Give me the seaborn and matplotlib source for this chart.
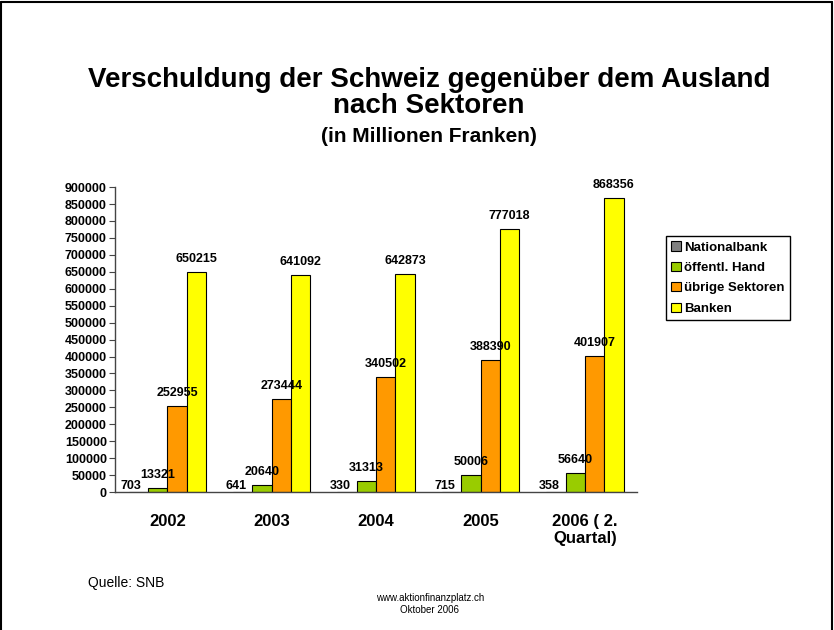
"""
Verschuldung der Schweiz gegenueber dem Ausland nach Sektoren.
"""

import matplotlib

matplotlib.use("Agg")

import matplotlib.pyplot as plt
import pandas as pd
import seaborn as sns
from matplotlib.lines import Line2D


YEARS = ["2002", "2003", "2004", "2005", "2006 ( 2.\nQuartal)"]
SECTORS = ["Nationalbank", "öffentl. Hand", "übrige Sektoren", "Banken"]

NATIONALBANK = [703, 641, 330, 715, 358]
OEFFENTL_HAND = [13321, 20640, 31313, 50006, 56640]
UEBRIGE_SEKTOREN = [252955, 273444, 340502, 388390, 401907]
BANKEN = [650215, 641092, 642873, 777018, 868356]

COLORS = ["#808080", "#99CC00", "#FF9900", "#FFFF00"]


def create_dataframe() -> pd.DataFrame:
    """
    Builds a long table for seaborn.
    """
    rows = []
    series = [NATIONALBANK, OEFFENTL_HAND, UEBRIGE_SEKTOREN, BANKEN]
    for sector, values in zip(SECTORS, series):
        for year, value in zip(YEARS, values):
            rows.append({"Jahr": year, "Sektor": sector, "Wert": value})
    return pd.DataFrame(rows)


def main() -> None:
    sns.set_style("white")
    plt.rcParams["font.family"] = ["Liberation Sans", "DejaVu Sans"]
    plt.rcParams["text.color"] = "black"
    plt.rcParams["xtick.color"] = "black"
    plt.rcParams["ytick.color"] = "black"

    df = create_dataframe()

    fig = plt.figure(figsize=(8.34, 6.3), dpi=100)
    ax = fig.add_axes([0.138, 0.219, 0.626, 0.484])

    sns.barplot(
        data=df,
        x="Jahr",
        y="Wert",
        hue="Sektor",
        order=YEARS,
        hue_order=SECTORS,
        palette=COLORS,
        saturation=1,
        edgecolor="black",
        linewidth=0.8,
        width=0.74,
        gap=0,
        ax=ax
    )

    for i, container in enumerate(ax.containers):
        labels = ax.bar_label(
            container,
            fmt="%d",
            padding=5,
            fontsize=9,
            fontweight="bold"
        )
        if i == 0:
            # tiny Nationalbank bars: label sits on the axis, a bit to the left
            for label in labels:
                label.xyann = (-5, 0)

    ax.set_ylim(0, 900000)
    ax.set_xlim(-0.5, len(YEARS) - 0.5)
    ax.set_yticks(range(0, 900001, 50000))
    ax.set_yticklabels([str(v) for v in range(0, 900001, 50000)],
                       fontsize=9, fontweight="bold")
    ax.set_xticks(range(len(YEARS)))
    ax.set_xticklabels(YEARS, fontsize=12, fontweight="bold",
                       linespacing=1.15)
    ax.set_xticks([i - 0.5 for i in range(len(YEARS) + 1)], minor=True)
    ax.tick_params(axis="x", which="major", length=0, pad=16)
    ax.tick_params(axis="x", which="minor", length=5, direction="out",
                   color="#444444")
    ax.tick_params(axis="y", length=4, direction="out", color="#444444",
                   pad=2, left=True)
    ax.set_xlabel("")
    ax.set_ylabel("")

    for side in ["top", "right"]:
        ax.spines[side].set_visible(False)
    for side in ["left", "bottom"]:
        ax.spines[side].set_color("#444444")
        ax.spines[side].set_linewidth(1.0)

    handles, labels = ax.get_legend_handles_labels()
    ax.legend(
        handles,
        labels,
        loc="upper left",
        bbox_to_anchor=(666 / 834, 1 - 236 / 630),
        bbox_transform=fig.transFigure,
        borderaxespad=0,
        frameon=True,
        fancybox=False,
        edgecolor="black",
        framealpha=1,
        prop={"size": 9.5, "weight": "bold"},
        handlelength=0.7,
        handleheight=0.7,
        handletextpad=0.3,
        labelspacing=0.62,
        borderpad=0.4
    )

    center_x = 429 / 834
    fig.text(center_x, 1 - 80 / 630,
             "Verschuldung der Schweiz gegenüber dem Ausland",
             ha="center", va="center", fontsize=20, fontweight="bold")
    fig.text(center_x, 1 - 106 / 630, "nach Sektoren",
             ha="center", va="center", fontsize=20, fontweight="bold")
    fig.text(center_x, 1 - 136 / 630, "(in Millionen Franken)",
             ha="center", va="center", fontsize=15, fontweight="bold")

    fig.text(88 / 834, 1 - 583 / 630, "Quelle: SNB",
             ha="left", va="center", fontsize=10)
    fig.text(430 / 834, 1 - 598 / 630, "www.aktionfinanzplatz.ch",
             ha="center", va="center", fontsize=7)
    fig.text(430 / 834, 1 - 610 / 630, "Oktober 2006",
             ha="center", va="center", fontsize=7)

    # slide frame (bottom edge is cut off in the original)
    left = 1 / 834
    right = 1 - 2 / 834
    top = 1 - 2 / 630
    for xs, ys in [([left, left], [0, top]),
                   ([left, right], [top, top]),
                   ([right, right], [top, 0])]:
        fig.add_artist(Line2D(xs, ys, transform=fig.transFigure,
                              color="black", linewidth=1.5))

    fig.savefig("out.png", dpi=100)
    plt.close(fig)


if __name__ == "__main__":
    main()
